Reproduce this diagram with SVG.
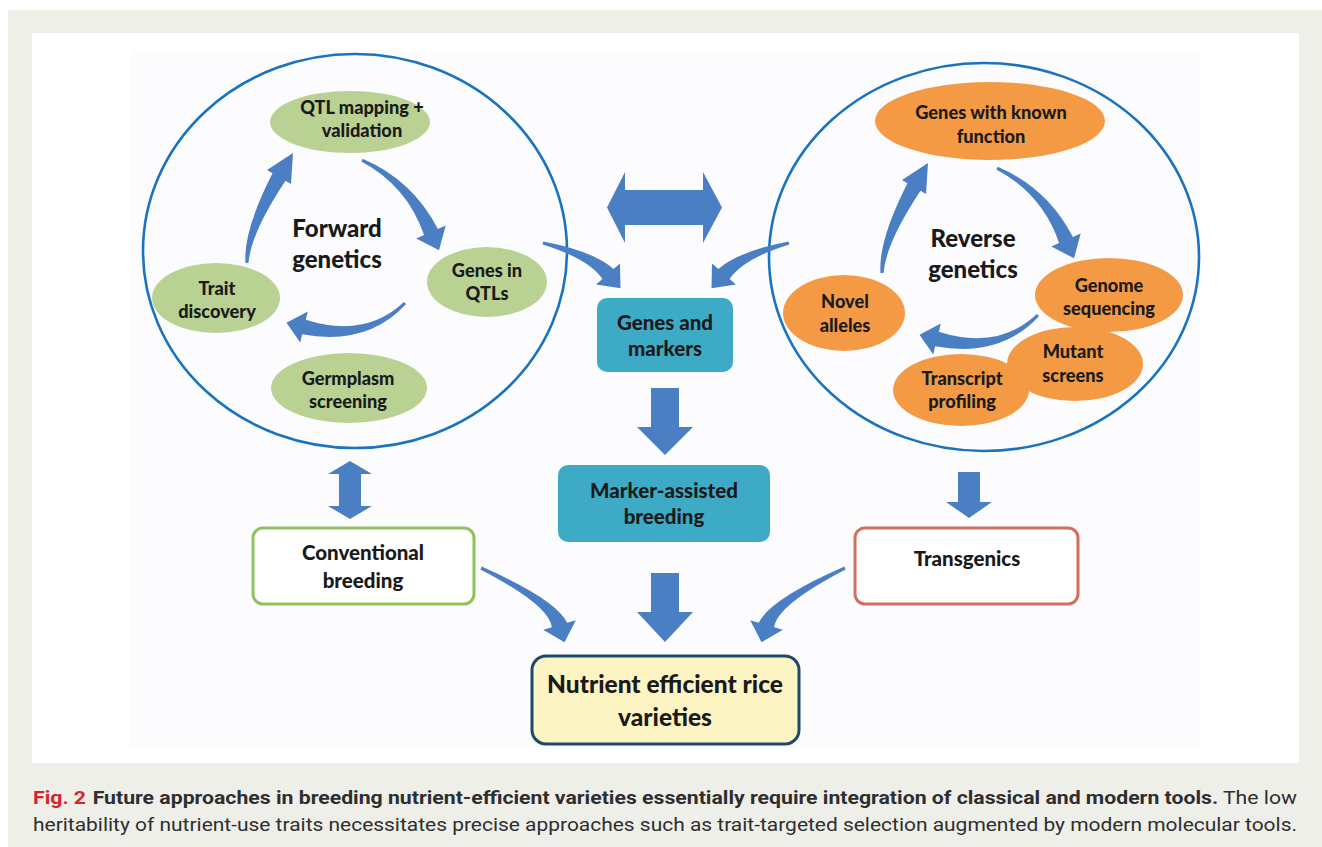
<svg xmlns="http://www.w3.org/2000/svg" xmlns:xlink="http://www.w3.org/1999/xlink" width="1322" height="847" viewBox="0 0 1322 847">
<style>
.t{font-family:Lato,"Liberation Sans",sans-serif;font-weight:900;fill:#1a1a1a;text-anchor:middle}
.s17{font-size:18.2px}
.s19{font-size:20.5px}
.s22{font-size:24px}
.s24{font-size:24.5px}
.ring{fill:none;stroke:#1a73bf;stroke-width:2.6}
.grn{fill:#b9d293}
.org{fill:#f49a45}
.aqua{fill:#3eabc6}
.arr{fill:#4a7fc3}
.cap{font-family:Roboto,"Liberation Sans",sans-serif;font-size:19px;fill:#2e2e2e}
</style>
<defs>
<path id="cwUp" d="M 245.5,263 Q 243.1,231 272.5,173.3 L 267,170 L 293,153 L 291,184 L 285.5,180.8 Q 250.9,233 248.5,263 Z"/>
<path id="cwDown" d="M 361.3,161.4 Q 407.2,185.8 424.1,235 L 416.3,238.4 L 439,250.3 L 445.7,225.6 L 437.9,229 Q 412.8,180.2 362.7,158.7 Z"/>
<path id="cwLeft" d="M 403.9,302 Q 365.2,338.6 305.8,319.7 L 307.8,311.5 L 286.5,322.7 L 300.2,342.5 L 302.2,334.3 Q 367.4,346.2 406.1,304 Z"/>
<path id="inArrow" d="M 542.6,244.5 Q 588.9,258.8 602.4,279 L 596,284.6 L 620.5,288.3 L 620,263.4 L 613.6,269 Q 593.5,251.2 543.4,241.5 Z"/>
<path id="outArrow" d="M 480.4,569.4 Q 549.5,605.2 551.8,627.2 L 543.2,629.8 L 564.5,642.3 L 575.8,620.2 L 567.2,622.8 Q 556.3,599.4 481.6,566.6 Z"/>
</defs>

<g id="background">
<rect x="0" y="0" width="1322" height="847" fill="#ffffff"/>
<rect x="8" y="10" width="1314" height="837" fill="#efefea"/>
<rect x="32" y="33" width="1267" height="730" fill="#ffffff"/>
<rect x="130" y="50" width="1071" height="698" fill="#fcfcfe"/>
</g>

<g id="forward-genetics">
<ellipse class="ring" cx="355" cy="251" rx="212" ry="197"/>
<text class="t s22" x="337" y="237">Forward</text>
<text class="t s22" x="337" y="268">genetics</text>
</g>

<g id="reverse-genetics">
<ellipse class="ring" cx="984" cy="257" rx="215" ry="194"/>
<text class="t s22" x="973" y="247">Reverse</text>
<text class="t s22" x="973" y="278">genetics</text>
</g>

<g id="qtl-mapping">
<ellipse class="grn" cx="350" cy="122" rx="80" ry="31"/>
<text class="t s17" x="362" y="114">QTL mapping +</text>
<text class="t s17" x="362" y="137">validation</text>
</g>
<g id="genes-in-qtls">
<ellipse class="grn" cx="487" cy="282" rx="60" ry="35"/>
<text class="t s17" x="487" y="277">Genes in</text>
<text class="t s17" x="487" y="300">QTLs</text>
</g>
<g id="trait-discovery">
<ellipse class="grn" cx="216" cy="298" rx="64" ry="35"/>
<text class="t s17" x="217" y="295">Trait</text>
<text class="t s17" x="217" y="318">discovery</text>
</g>
<g id="germplasm-screening">
<ellipse class="grn" cx="349" cy="388" rx="78" ry="35"/>
<text class="t s17" x="348" y="385">Germplasm</text>
<text class="t s17" x="348" y="408">screening</text>
</g>

<g id="genes-known-function">
<ellipse class="org" cx="990" cy="121" rx="115" ry="39"/>
<text class="t s17" x="991" y="119">Genes with known</text>
<text class="t s17" x="991" y="143">function</text>
</g>
<g id="genome-sequencing">
<ellipse class="org" cx="1109" cy="295" rx="74" ry="37"/>
<text class="t s17" x="1109" y="292">Genome</text>
<text class="t s17" x="1109" y="315">sequencing</text>
</g>
<g id="mutant-screens">
<ellipse class="org" cx="1075" cy="364" rx="68" ry="37"/>
<text class="t s17" x="1073" y="358">Mutant</text>
<text class="t s17" x="1073" y="382">screens</text>
</g>
<g id="transcript-profiling">
<ellipse class="org" cx="961" cy="390" rx="68" ry="36"/>
<text class="t s17" x="962" y="385">Transcript</text>
<text class="t s17" x="962" y="408">profiling</text>
</g>
<g id="novel-alleles">
<ellipse class="org" cx="844" cy="313" rx="61" ry="38"/>
<text class="t s17" x="845" y="308">Novel</text>
<text class="t s17" x="845" y="332">alleles</text>
</g>

<g id="genes-and-markers">
<rect class="aqua" x="597" y="298" width="136" height="74" rx="10"/>
<text class="t s19" x="665" y="330">Genes and</text>
<text class="t s19" x="665" y="356">markers</text>
</g>
<g id="marker-assisted-breeding">
<rect class="aqua" x="558" y="465" width="212" height="77" rx="10"/>
<text class="t s19" x="664" y="498">Marker-assisted</text>
<text class="t s19" x="664" y="524">breeding</text>
</g>
<g id="conventional-breeding">
<rect x="253" y="528" width="221" height="76" rx="10" fill="#ffffff" stroke="#92c160" stroke-width="3"/>
<text class="t s19" x="363" y="560">Conventional</text>
<text class="t s19" x="363" y="588">breeding</text>
</g>
<g id="transgenics">
<rect x="855" y="528" width="223" height="76" rx="10" fill="#ffffff" stroke="#d36f5e" stroke-width="3"/>
<text class="t s19" x="967" y="566">Transgenics</text>
</g>
<g id="nutrient-efficient-rice">
<rect x="532" y="656" width="267" height="88" rx="14" fill="#fdf4c3" stroke="#1d4a6a" stroke-width="3"/>
<text class="t s24" x="665" y="693">Nutrient efficient rice</text>
<text class="t s24" x="665" y="726">varieties</text>
</g>

<g id="connectors" class="arr">
<use xlink:href="#cwUp"/>
<use xlink:href="#cwDown"/>
<use xlink:href="#cwLeft"/>
<use xlink:href="#cwUp" transform="translate(635,10)"/>
<use xlink:href="#cwDown" transform="translate(635,8)"/>
<use xlink:href="#cwLeft" transform="translate(633,12)"/>
<use xlink:href="#inArrow"/>
<use xlink:href="#inArrow" transform="translate(1332,0) scale(-1,1)"/>
<use xlink:href="#outArrow"/>
<use xlink:href="#outArrow" transform="translate(1326,0) scale(-1,1)"/>
<polygon points="607,207.5 625,172 625,190 703,190 703,172 722,207.5 703,243 703,225 625,225 625,243"/>
<polygon points="651,388 679,388 679,427 693,427 665,455 637,427 651,427"/>
<polygon points="651,573 679,573 679,612 693,612 665,642 637,612 651,612"/>
<polygon points="958,472 980,472 980,502 992,502 969,518 946,502 958,502"/>
<polygon points="350,461 372,474 361,474 361,506 372,506 350,519 328,506 339,506 339,474 328,474"/>
</g>

<g id="caption">
<text class="cap" x="33" y="804" textLength="1264" lengthAdjust="spacingAndGlyphs"><tspan fill="#d5232f" font-weight="700">Fig. 2</tspan><tspan font-weight="700" dx="6">Future approaches in breeding nutrient-efficient varieties essentially require integration of classical and modern tools.</tspan><tspan> The low</tspan></text>
<text class="cap" x="33" y="831" textLength="1264" lengthAdjust="spacingAndGlyphs">heritability of nutrient-use traits necessitates precise approaches such as trait-targeted selection augmented by modern molecular tools.</text>
</g>
</svg>
